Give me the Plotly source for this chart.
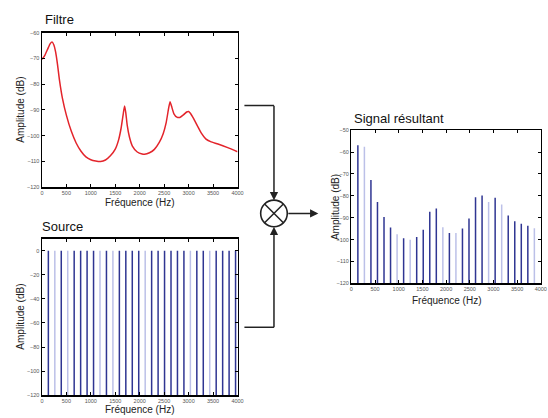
import plotly.graph_objects as go

W, H = 548, 418

# ---------------- data ----------------
filter_freq = [0, 60, 120, 170, 208, 245, 280, 320, 360, 420, 500, 600, 700, 800, 900,
               1000, 1100, 1200, 1300, 1400, 1500, 1570, 1620, 1660, 1690, 1715, 1745,
               1790, 1850, 1950, 2050, 2100, 2200, 2300, 2400, 2480, 2540, 2590, 2620,
               2650, 2700, 2760, 2820, 2900, 2960, 3000, 3040, 3100, 3180, 3260, 3350,
               3450, 3600, 3800, 4000]
filter_db = [-70.4, -68.8, -66.3, -64.3, -63.7, -64.8, -67.5, -72.5, -78.5, -85.5, -92.0,
             -98.2, -102.8, -106.0, -108.2, -109.3, -109.8, -110.0, -109.4, -107.8, -105.2,
             -101.5, -97.0, -92.0, -88.5, -91.0, -96.0, -100.5, -104.0, -106.3, -107.1,
             -107.2, -106.6, -105.3, -102.6, -99.2, -95.0, -89.5, -86.8, -88.5, -91.5,
             -92.8, -92.9, -91.8, -90.8, -90.6, -91.4, -93.3, -96.2, -99.0, -101.2,
             -102.3, -103.2, -104.6, -106.2]

source_freq = [132, 264, 396, 528, 660, 792, 924, 1056, 1188, 1320, 1452, 1584, 1716, 1848,
               1980, 2112, 2244, 2376, 2508, 2640, 2772, 2904, 3036, 3168, 3300, 3432, 3564,
               3696, 3828, 3960]
source_db = [0] * 30

signal_freq = [138, 276, 414, 552, 690, 828, 966, 1104, 1242, 1380, 1518, 1656, 1794, 1932,
               2070, 2208, 2346, 2484, 2622, 2760, 2898, 3036, 3174, 3312, 3450, 3588, 3726,
               3864]
signal_db = [-56.9, -57.6, -72.8, -82.8, -89.7, -94.5, -97.5, -99.4, -100.0, -98.8, -95.5,
             -87.3, -85.8, -94.3, -97.0, -97.0, -94.9, -90.3, -80.7, -79.9, -82.8, -80.9,
             -84.0, -89.0, -91.6, -92.8, -93.7, -94.8]

freq_ticks = [0, 500, 1000, 1500, 2000, 2500, 3000, 3500, 4000]
filter_yticks = [-120, -110, -100, -90, -80, -70, -60]
source_yticks = [-120, -100, -80, -60, -40, -20, 0]
signal_yticks = [-120, -110, -100, -90, -80, -70, -60, -50]

# which stems render light (anti-aliasing look of the original)
source_light = {2, 4, 9, 11, 16, 23, 26}
signal_light = {2, 7, 9, 14, 16, 21, 23, 28}

DARK = "#2f3592"
LIGHT = "#bcc0e8"
FONT = "Liberation Sans"


def px(x):
    return x / W


def py(y):
    return 1 - y / H


def stems(freqs, vals, light, base, bright):
    xs, ys = [], []
    for i, (f, v) in enumerate(zip(freqs, vals), start=1):
        if (i in light) == bright:
            xs += [f, f, None]
            ys += [base, v, None]
    return xs, ys


fig = go.Figure()

fig.add_trace(go.Scatter(x=filter_freq, y=filter_db, mode="lines",
                         line=dict(color="#e3242b", width=1.5, shape="spline", smoothing=0.5),
                         xaxis="x", yaxis="y", hoverinfo="skip"))

for bright, col in [(True, LIGHT), (False, DARK)]:
    xs, ys = stems(source_freq, source_db, source_light, -120, bright)
    fig.add_trace(go.Scatter(x=xs, y=ys, mode="lines", line=dict(color=col, width=1.5),
                             xaxis="x2", yaxis="y2", hoverinfo="skip"))
    xs, ys = stems(signal_freq, signal_db, signal_light, -120, bright)
    fig.add_trace(go.Scatter(x=xs, y=ys, mode="lines", line=dict(color=col, width=1.5),
                             xaxis="x3", yaxis="y3", hoverinfo="skip"))

tickfont = dict(family=FONT, size=5.5, color="#555")
common = dict(showline=True, linecolor="black", linewidth=1.4, mirror="ticks",
              ticks="inside", ticklen=3, tickcolor="black", tickwidth=1,
              showgrid=False, zeroline=False, tickfont=tickfont, fixedrange=True)

fx = [px(40.5), px(239)]
fig.update_layout(
    width=W, height=H, margin=dict(l=0, r=0, t=0, b=0),
    paper_bgcolor="white", plot_bgcolor="white", showlegend=False,
    xaxis=dict(domain=fx, range=[0, 4000], tickvals=freq_ticks, anchor="y", **common),
    yaxis=dict(domain=[py(187), py(30)], range=[-120, -60], tickvals=filter_yticks,
               anchor="x", **common),
    xaxis2=dict(domain=fx, range=[0, 4000], tickvals=freq_ticks, anchor="y2", **common),
    yaxis2=dict(domain=[py(398), py(239)], range=[-120, 10], tickvals=source_yticks,
                anchor="x2", **common),
    xaxis3=dict(domain=[px(354.5), px(546.8)], range=[0, 4000], tickvals=freq_ticks,
                anchor="y3", **common),
    yaxis3=dict(domain=[py(284.5), py(129)], range=[-120, -50], tickvals=signal_yticks,
                anchor="x3", **common),
)

ann = []
# titles
for text, x, y in [("Filtre", 42, 17), ("Source", 39, 227), ("Signal résultant", 355, 117)]:
    ann.append(dict(text=text, x=px(x), y=py(y), xref="paper", yref="paper",
                    xanchor="left", yanchor="middle", showarrow=False,
                    font=dict(family=FONT, size=13, color="#111")))
# axis titles
for x, y in [(140, 202), (140, 412), (451, 302)]:
    ann.append(dict(text="Fréquence (Hz)", x=px(x), y=py(y), xref="paper", yref="paper",
                    xanchor="center", yanchor="middle", showarrow=False,
                    font=dict(family=FONT, size=10, color="#222")))
for x, y in [(19, 108.5), (19, 318.5), (338, 207)]:
    ann.append(dict(text="Amplitude (dB)", x=px(x), y=py(y), xref="paper", yref="paper",
                    xanchor="center", yanchor="middle", showarrow=False, textangle=-90,
                    font=dict(family=FONT, size=10, color="#222")))

# arrows
cx, cy, r = 276, 213.5, 13.5
arrow = dict(xref="paper", yref="paper", axref="pixel", ayref="pixel", text="",
             showarrow=True, arrowhead=2, arrowsize=1.1, arrowwidth=1.5, arrowcolor="#222")
ann.append(dict(x=px(cx), y=py(cy - r), ax=0, ay=-(cy - r - 104), **arrow))
ann.append(dict(x=px(cx), y=py(cy + r), ax=0, ay=(329 - cy - r), **arrow))
ann.append(dict(x=px(321), y=py(cy), ax=-(321 - cx - r), ay=0, **arrow))
fig.update_layout(annotations=ann)

lw = dict(color="#222", width=1.5)
shapes = [
    dict(type="line", xref="paper", yref="paper", x0=px(246), y0=py(104), x1=px(cx), y1=py(104), line=lw),
    dict(type="line", xref="paper", yref="paper", x0=px(246), y0=py(329), x1=px(cx), y1=py(329), line=lw),
    dict(type="circle", xref="paper", yref="paper", x0=px(cx - r), x1=px(cx + r),
         y0=py(cy + r), y1=py(cy - r), line=dict(color="#222", width=1.6)),
]
d = r * 0.7071
shapes.append(dict(type="line", xref="paper", yref="paper", x0=px(cx - d), y0=py(cy - d),
                   x1=px(cx + d), y1=py(cy + d), line=lw))
shapes.append(dict(type="line", xref="paper", yref="paper", x0=px(cx - d), y0=py(cy + d),
                   x1=px(cx + d), y1=py(cy - d), line=lw))
fig.update_layout(shapes=shapes)

fig.write_html(
    "out.html",
    config={"displayModeBar": False, "staticPlot": True},
    post_script="document.body.style.margin='0';document.body.style.overflow='hidden';",
)
